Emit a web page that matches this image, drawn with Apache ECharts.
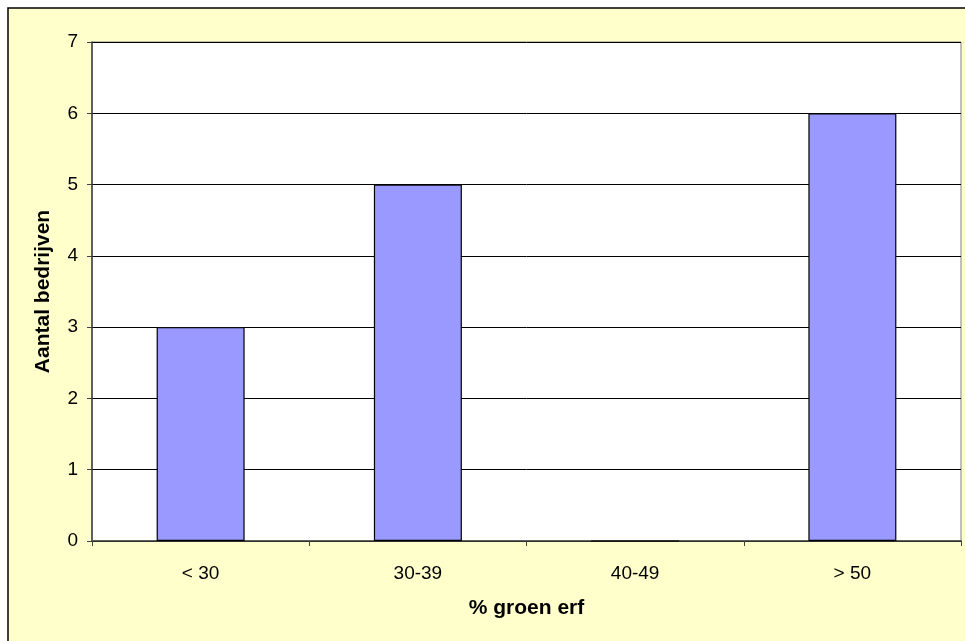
<!DOCTYPE html>
<html>
<head>
<meta charset="utf-8">
<script src="https://cdn.jsdelivr.net/npm/echarts@6/dist/echarts.min.js"></script>
<style>
html,body{margin:0;padding:0;background:#ffffff;}
#c{width:965px;height:641px;}
</style>
</head>
<body>
<div id="c"></div>
<script>
const categories = ['< 30', '30-39', '40-49', '> 50'];
const values = [3, 5, 0, 6];
const yTicks = [0, 1, 2, 3, 4, 5, 6, 7];

const chart = echarts.init(document.getElementById('c'), null, {renderer: 'canvas'});
chart.setOption({
  animation: false,
  backgroundColor: '#ffffff',
  graphic: [{
    type: 'rect', z: -10, silent: true,
    shape: {x: 8, y: 8, width: 1000, height: 700},
    style: {fill: '#FFFFCC', stroke: '#000000', lineWidth: 1.5}
  }, {
    type: 'rect', z: -5, silent: true,
    shape: {x: 92, y: 42, width: 869, height: 499},
    style: {fill: '#ffffff', stroke: '#808080', lineWidth: 1}
  }],
  grid: {left: 92, top: 42, width: 869, height: 499, containLabel: false},
  xAxis: {
    type: 'category',
    data: categories,
    name: '% groen erf',
    nameLocation: 'middle',
    nameGap: 57,
    nameTextStyle: {fontFamily: 'Liberation Sans, Arial', fontWeight: 'bold', fontSize: 21, color: '#000'},
    axisLine: {lineStyle: {color: '#404040', width: 1.5}},
    axisTick: {show: true, alignWithLabel: false, length: 5, lineStyle: {color: '#404040'}},
    axisLabel: {fontFamily: 'Liberation Sans, Arial', fontSize: 19, color: '#000', margin: 23},
    splitLine: {show: false}
  },
  yAxis: {
    type: 'value',
    min: yTicks[0],
    max: yTicks[yTicks.length - 1],
    interval: 1,
    name: 'Aantal bedrijven',
    nameLocation: 'middle',
    nameGap: 38,
    nameTextStyle: {fontFamily: 'Liberation Sans, Arial', fontWeight: 'bold', fontSize: 21, color: '#000'},
    axisLine: {show: true, lineStyle: {color: '#404040', width: 1.5}},
    axisTick: {show: true, length: 5, lineStyle: {color: '#404040'}},
    axisLabel: {fontFamily: 'Liberation Sans, Arial', fontSize: 19, color: '#000', margin: 14},
    splitLine: {show: true, lineStyle: {color: '#000000', width: 1}}
  },
  series: [{
    type: 'bar',
    data: values,
    barWidth: '40.5%',
    itemStyle: {color: '#9999FF', borderColor: '#000000', borderWidth: 1.2}
  }]
});
</script>
</body>
</html>
